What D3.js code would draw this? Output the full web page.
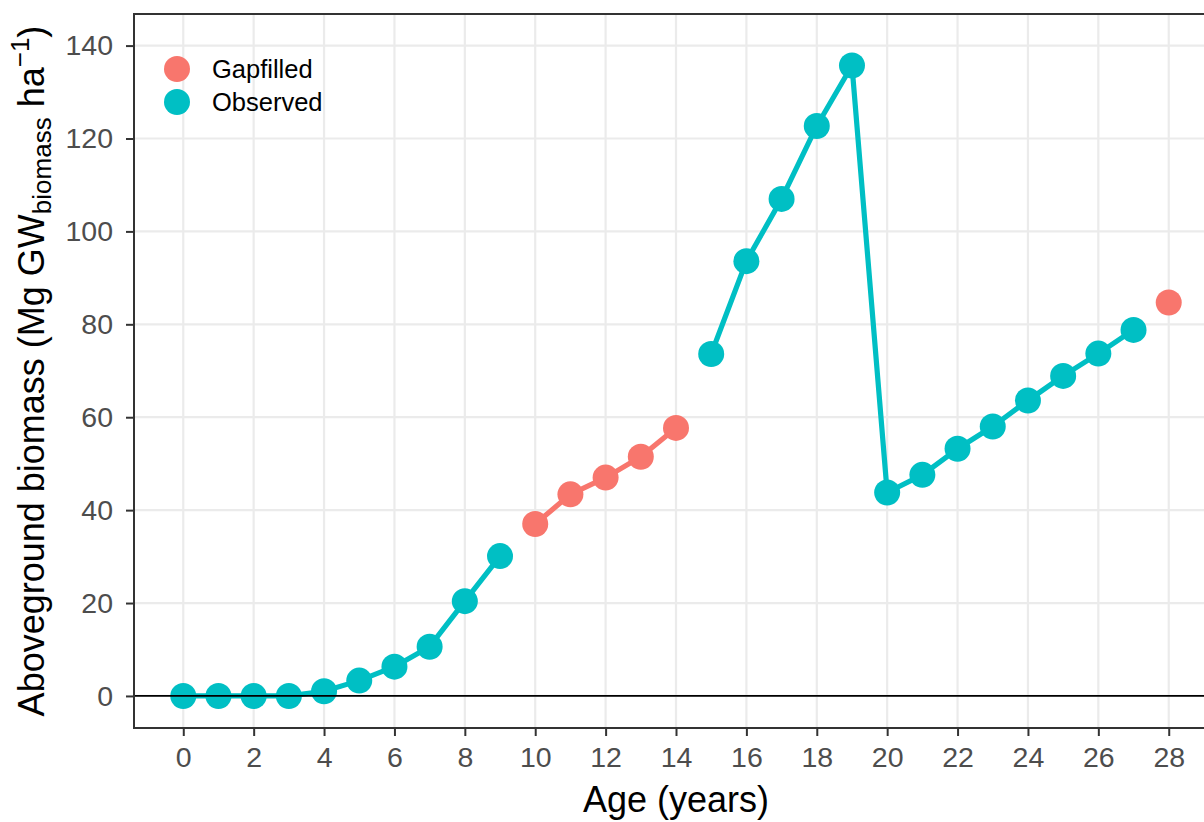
<!DOCTYPE html>
<html>
<head>
<meta charset="utf-8">
<script src="https://cdn.jsdelivr.net/npm/d3@7"></script>
<style>
  html, body { margin: 0; padding: 0; background: #ffffff; }
  svg { display: block; font-family: "Liberation Sans", Arial, sans-serif; }
</style>
</head>
<body>
<svg id="chart" width="1204" height="822"></svg>
<script>
// Stand age (years)
const ages = [0, 1, 2, 3, 4, 5, 6, 7, 8, 9, 10, 11, 12, 13, 14, 15, 16, 17, 18, 19, 20, 21, 22, 23, 24, 25, 26, 27, 28];
// Aboveground biomass (Mg GW_biomass per ha)
const biomass = [0, 0, 0, 0, 1.0, 3.3, 6.3, 10.6, 20.4, 30.1, 37.0, 43.4, 47.0, 51.5, 57.7, 73.6, 93.6, 107.0, 122.7, 135.7, 43.8, 47.6, 53.2, 58.0, 63.6, 68.9, 73.7, 78.8, 84.7];
// Source of each value
const source = ["Observed", "Observed", "Observed", "Observed", "Observed", "Observed", "Observed", "Observed", "Observed", "Observed",
                "Gapfilled", "Gapfilled", "Gapfilled", "Gapfilled", "Gapfilled",
                "Observed", "Observed", "Observed", "Observed", "Observed", "Observed", "Observed", "Observed", "Observed", "Observed", "Observed", "Observed", "Observed",
                "Gapfilled"];
const legendKeys = ["Gapfilled", "Observed"];
const xTicks = [0, 2, 4, 6, 8, 10, 12, 14, 16, 18, 20, 22, 24, 26, 28];
const yTicks = [0, 20, 40, 60, 80, 100, 120, 140];

const colour = d3.scaleOrdinal().domain(legendKeys).range(["#F8766D", "#00BFC4"]);

const panel = { left: 134, top: 14, right: 1218, bottom: 728 };
const x = d3.scaleLinear().domain([-1.4, 29.4]).range([panel.left, panel.right]);
const y = d3.scaleLinear().domain([-6.9, 146.8]).range([panel.bottom, panel.top]);

const svg = d3.select("#chart");

// Records, split into runs of consecutive values with the same source
const rows = ages.map((a, i) => ({ age: a, value: biomass[i], source: source[i] }));
const runs = [];
rows.forEach((r, i) => {
  if (i === 0 || r.source !== rows[i - 1].source) runs.push([]);
  runs[runs.length - 1].push(r);
});

// Grid
const grid = svg.append("g");
grid.selectAll("line.gx").data(xTicks).join("line")
  .attr("x1", d => x(d)).attr("x2", d => x(d))
  .attr("y1", panel.top).attr("y2", panel.bottom)
  .attr("stroke", "#EBEBEB").attr("stroke-width", 2.2);
grid.selectAll("line.gy").data(yTicks).join("line")
  .attr("x1", panel.left).attr("x2", panel.right)
  .attr("y1", d => y(d)).attr("y2", d => y(d))
  .attr("stroke", "#EBEBEB").attr("stroke-width", 2.2);

// Lines per run
const line = d3.line().x(d => x(d.age)).y(d => y(d.value));
svg.append("g").selectAll("path").data(runs.filter(r => r.length > 1)).join("path")
  .attr("d", line)
  .attr("fill", "none")
  .attr("stroke", d => colour(d[0].source))
  .attr("stroke-width", 5.2)
  .attr("stroke-linejoin", "round");

// Points
svg.append("g").selectAll("circle").data(rows).join("circle")
  .attr("cx", d => x(d.age)).attr("cy", d => y(d.value))
  .attr("r", 13)
  .attr("fill", d => colour(d.source));

// Zero reference line
svg.append("line")
  .attr("x1", panel.left).attr("x2", panel.right)
  .attr("y1", y(0)).attr("y2", y(0))
  .attr("stroke", "#000000").attr("stroke-width", 1.8);

// Panel border
svg.append("rect")
  .attr("x", panel.left).attr("y", panel.top)
  .attr("width", panel.right - panel.left).attr("height", panel.bottom - panel.top)
  .attr("fill", "none").attr("stroke", "#333333").attr("stroke-width", 2);

// Axes
const xAxis = svg.append("g").attr("transform", `translate(0,${panel.bottom})`)
  .call(d3.axisBottom(x).tickValues(xTicks).tickSize(8).tickPadding(11).tickFormat(d3.format("d")));
const yAxis = svg.append("g").attr("transform", `translate(${panel.left},0)`)
  .call(d3.axisLeft(y).tickValues(yTicks).tickSize(8).tickPadding(13).tickFormat(d3.format("d")));
[xAxis, yAxis].forEach(g => {
  g.select(".domain").remove();
  g.selectAll(".tick line").attr("stroke", "#333333").attr("stroke-width", 2);
  g.selectAll(".tick text").attr("fill", "#4D4D4D")
    .attr("font-size", 28.5).attr("font-family", "Liberation Sans, Arial, sans-serif");
});

// Axis titles
svg.append("text")
  .attr("x", (panel.left + panel.right) / 2).attr("y", 812)
  .attr("text-anchor", "middle").attr("font-size", 36).attr("fill", "#000")
  .text("Age (years)");

const yTitle = svg.append("text")
  .attr("transform", `translate(44,${(panel.top + panel.bottom) / 2}) rotate(-90)`)
  .attr("text-anchor", "middle").attr("font-size", 36).attr("fill", "#000");
yTitle.append("tspan").text("Aboveground biomass (Mg GW");
yTitle.append("tspan").attr("font-size", 26).attr("dy", 7).text("biomass");
yTitle.append("tspan").attr("dy", -7).text(" ha");
yTitle.append("tspan").attr("font-size", 26).attr("dy", -15).text("\u22121");
yTitle.append("tspan").attr("dy", 15).text(")");

// Legend
const legend = svg.append("g");
legendKeys.forEach((k, i) => {
  const cy = 69 + i * 33;
  legend.append("circle").attr("cx", 177).attr("cy", cy).attr("r", 13).attr("fill", colour(k));
  legend.append("text").attr("x", 212).attr("y", cy).attr("dy", "0.36em")
    .attr("font-size", 25.5).attr("fill", "#000").text(k);
});
</script>
</body>
</html>
